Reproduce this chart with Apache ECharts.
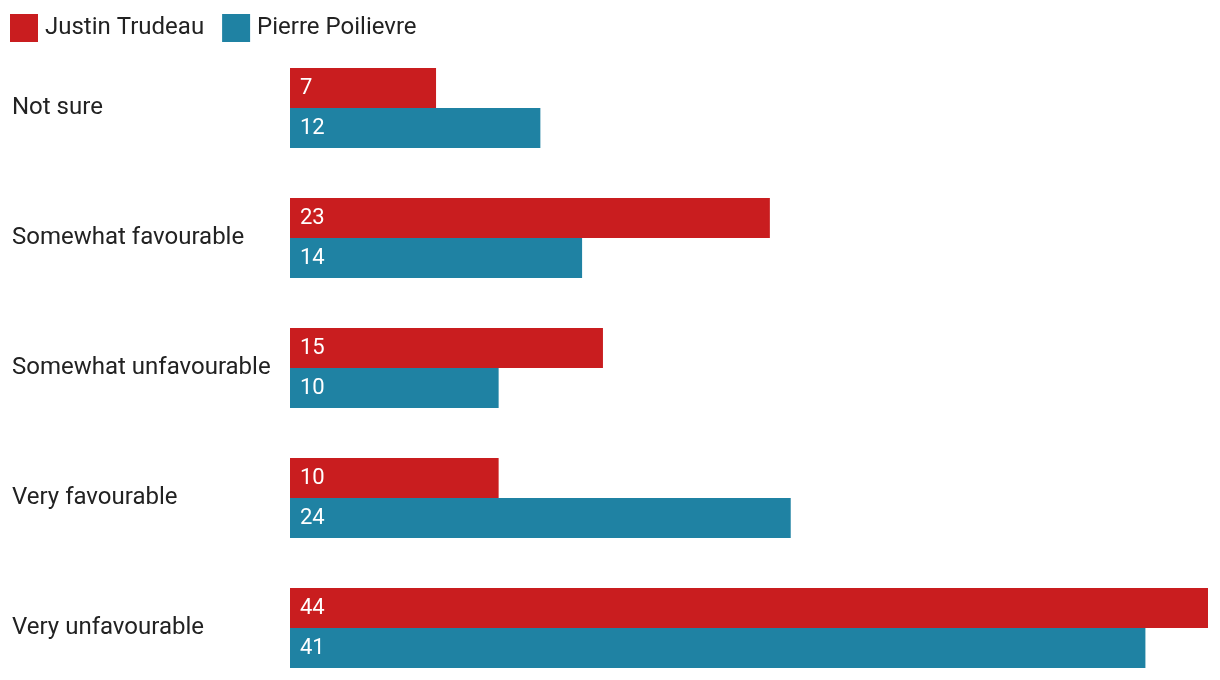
<!DOCTYPE html>
<html><head><meta charset="utf-8">
<script src="https://cdn.jsdelivr.net/npm/echarts@6/dist/echarts.min.js"></script>
<style>html,body{margin:0;padding:0;background:#fff}#c{width:1220px;height:680px}</style>
</head><body><div id="c"></div>
<script>
const categories = ["Not sure", "Somewhat favourable", "Somewhat unfavourable", "Very favourable", "Very unfavourable"];
const trudeau = [7, 23, 15, 10, 44];
const poilievre = [12, 14, 10, 24, 41];
const seriesNames = ["Justin Trudeau", "Pierre Poilievre"];

const chart = echarts.init(document.getElementById('c'), null, {renderer: 'canvas'});
const font = 'Roboto';
const lbl = {show: true, position: 'insideLeft', distance: 10, color: '#fff', fontFamily: font, fontSize: 22, padding: [3,0,0,0]};
chart.setOption({
  animation: false,
  legend: {
    left: 10, top: 14, padding: 0, itemWidth: 28, itemHeight: 28, itemGap: 18,
    icon: 'rect',
    textStyle: {fontFamily: font, fontSize: 24, color: '#222', padding: [0,0,0,2]},
    data: seriesNames
  },
  grid: {left: 290, top: 43, width: 918, height: 650, containLabel: false, outerBoundsMode: 'none'},
  xAxis: {type: 'value', min: 0, max: 44, show: false},
  yAxis: {
    type: 'category', data: categories, inverse: true,
    axisLine: {show: false}, axisTick: {show: false},
    axisLabel: {fontFamily: font, fontSize: 24, color: '#222', align: 'left', margin: 278, padding: [4,0,0,0]}
  },
  series: [
    {name: seriesNames[0], type: 'bar', data: trudeau, itemStyle: {color: '#c91d1f'}, barWidth: 40, barGap: '0%', label: lbl},
    {name: seriesNames[1], type: 'bar', data: poilievre, itemStyle: {color: '#1f82a3'}, barWidth: 40, barGap: '0%', label: lbl}
  ]
});
</script></body></html>
